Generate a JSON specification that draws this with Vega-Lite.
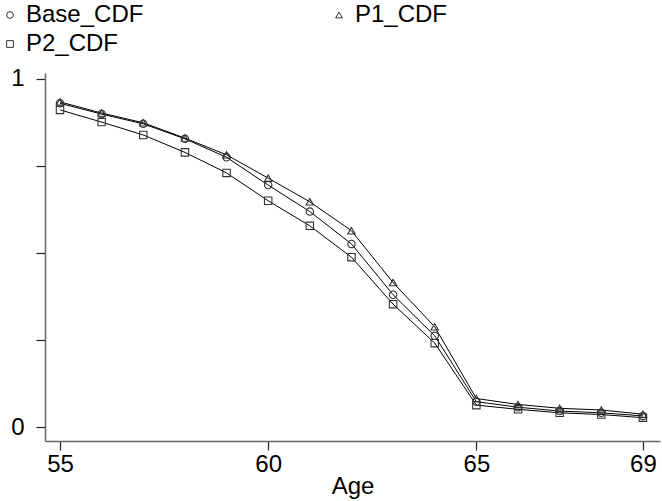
{
  "$schema": "https://vega.github.io/schema/vega-lite/v6.json",
  "autosize": {"type": "none"},
  "padding": {"left": 45, "top": 73, "right": 2, "bottom": 60},
  "width": 615,
  "height": 368,
  "background": "white",
  "config": {
    "view": {"stroke": null},
    "font": "Liberation Sans",
    "axis": {"grid": false, "labelFont": "Liberation Sans", "titleFont": "Liberation Sans", "labelColor": "#000", "titleColor": "#000", "titleFontWeight": "normal", "labelFontSize": 24, "titleFontSize": 24, "domainColor": "#666", "tickColor": "#222", "tickSize": 9, "domainWidth": 1.5, "tickWidth": 1.2}
  },
  "data": {
    "values": [
      {"Age": 55, "series": "Base_CDF", "cdf": 0.930}, {"Age": 55, "series": "P1_CDF", "cdf": 0.934}, {"Age": 55, "series": "P2_CDF", "cdf": 0.911},
      {"Age": 56, "series": "Base_CDF", "cdf": 0.899}, {"Age": 56, "series": "P1_CDF", "cdf": 0.902}, {"Age": 56, "series": "P2_CDF", "cdf": 0.876},
      {"Age": 57, "series": "Base_CDF", "cdf": 0.871}, {"Age": 57, "series": "P1_CDF", "cdf": 0.874}, {"Age": 57, "series": "P2_CDF", "cdf": 0.839},
      {"Age": 58, "series": "Base_CDF", "cdf": 0.828}, {"Age": 58, "series": "P1_CDF", "cdf": 0.830}, {"Age": 58, "series": "P2_CDF", "cdf": 0.789},
      {"Age": 59, "series": "Base_CDF", "cdf": 0.775}, {"Age": 59, "series": "P1_CDF", "cdf": 0.782}, {"Age": 59, "series": "P2_CDF", "cdf": 0.730},
      {"Age": 60, "series": "Base_CDF", "cdf": 0.695}, {"Age": 60, "series": "P1_CDF", "cdf": 0.715}, {"Age": 60, "series": "P2_CDF", "cdf": 0.650},
      {"Age": 61, "series": "Base_CDF", "cdf": 0.619}, {"Age": 61, "series": "P1_CDF", "cdf": 0.647}, {"Age": 61, "series": "P2_CDF", "cdf": 0.578},
      {"Age": 62, "series": "Base_CDF", "cdf": 0.526}, {"Age": 62, "series": "P1_CDF", "cdf": 0.564}, {"Age": 62, "series": "P2_CDF", "cdf": 0.488},
      {"Age": 63, "series": "Base_CDF", "cdf": 0.380}, {"Age": 63, "series": "P1_CDF", "cdf": 0.415}, {"Age": 63, "series": "P2_CDF", "cdf": 0.353},
      {"Age": 64, "series": "Base_CDF", "cdf": 0.262}, {"Age": 64, "series": "P1_CDF", "cdf": 0.288}, {"Age": 64, "series": "P2_CDF", "cdf": 0.241},
      {"Age": 65, "series": "Base_CDF", "cdf": 0.073}, {"Age": 65, "series": "P1_CDF", "cdf": 0.082}, {"Age": 65, "series": "P2_CDF", "cdf": 0.063},
      {"Age": 66, "series": "Base_CDF", "cdf": 0.057}, {"Age": 66, "series": "P1_CDF", "cdf": 0.065}, {"Age": 66, "series": "P2_CDF", "cdf": 0.051},
      {"Age": 67, "series": "Base_CDF", "cdf": 0.046}, {"Age": 67, "series": "P1_CDF", "cdf": 0.054}, {"Age": 67, "series": "P2_CDF", "cdf": 0.041},
      {"Age": 68, "series": "Base_CDF", "cdf": 0.041}, {"Age": 68, "series": "P1_CDF", "cdf": 0.049}, {"Age": 68, "series": "P2_CDF", "cdf": 0.036},
      {"Age": 69, "series": "Base_CDF", "cdf": 0.032}, {"Age": 69, "series": "P1_CDF", "cdf": 0.037}, {"Age": 69, "series": "P2_CDF", "cdf": 0.027}
    ]
  },
  "encoding": {
    "x": {"field": "Age", "type": "quantitative", "scale": {"domain": [54.64, 69.41], "nice": false, "zero": false},
      "axis": {"values": [55, 60, 65, 69], "title": "Age", "labelPadding": 2, "titlePadding": -2, "labelFlush": false}},
    "y": {"field": "cdf", "type": "quantitative", "scale": {"domain": [-0.04, 1.017], "nice": false, "zero": false},
      "axis": {"values": [0, 0.25, 0.5, 0.75, 1], "title": null, "labelPadding": 12, "labelExpr": "datum.value == 1 ? '1' : (datum.value == 0 ? '0' : '')"}}
  },
  "layer": [
    {
      "mark": {"type": "line", "color": "#000", "strokeWidth": 1},
      "encoding": {"detail": {"field": "series", "type": "nominal"}}
    },
    {
      "mark": {"type": "point", "filled": false, "stroke": "#333", "strokeWidth": 1.1, "size": 55, "opacity": 1},
      "encoding": {
        "shape": {"field": "series", "type": "nominal",
          "scale": {"domain": ["Base_CDF", "P1_CDF", "P2_CDF"], "range": ["circle", "triangle-up", "square"]},
          "legend": {"title": null, "orient": "none", "legendX": -47, "legendY": -70, "direction": "horizontal", "columns": 2,
            "columnPadding": 183, "rowPadding": 5, "labelFontSize": 24, "labelFont": "Liberation Sans", "labelColor": "#000",
            "symbolSize": 45, "symbolStrokeColor": "#333", "symbolFillColor": "transparent", "symbolStrokeWidth": 1, "labelOffset": 4}}
      }
    }
  ]
}
